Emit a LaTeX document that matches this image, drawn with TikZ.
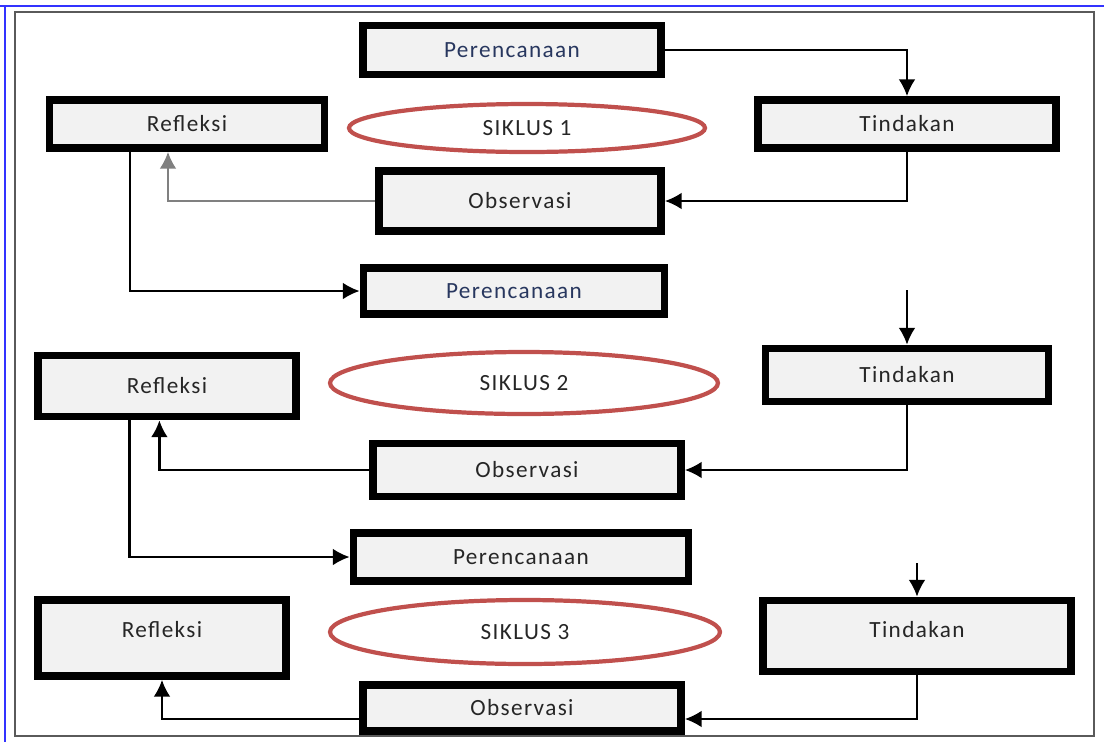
\documentclass[tikz,border=0pt]{standalone}
\usepackage{fontspec}
\setmainfont{Carlito}[LetterSpace=6]
\usetikzlibrary{arrows.meta,shapes.geometric}
\definecolor{siklusred}{RGB}{192,80,77}
\definecolor{boxgray}{RGB}{242,242,242}
\definecolor{perblue}{RGB}{40,55,95}
\definecolor{framegray}{RGB}{90,90,90}

\begin{document}
\begin{tikzpicture}[
  x=0.25mm, y=-0.25mm,
  box/.style={draw, line width=5.5pt, fill=boxgray, inner sep=0pt, text=black!85, font=\fontsize{16.5}{19}\selectfont},
  siklus/.style={draw=siklusred, ellipse, line width=3pt, inner sep=0pt, text=black!85, font=\fontsize{16.5}{19}\selectfont},
  arr/.style={-{Latex[length=4.2mm,width=4.2mm]}, line width=1.6pt}
]
\useasboundingbox (0,0) rectangle (1104,742);
% frame
\draw[blue!80, line width=1.5pt] (0,6) -- (1104,6) (5,6) -- (5,742);
\draw[framegray, line width=1.4pt] (15,12) rectangle (1094,736);

% siklus 1
\node[box, minimum width=74.5mm, minimum height=12.25mm, text=perblue] (per1) at (512,50) {Perencanaan};
\node[box, minimum width=68.75mm, minimum height=12mm] (ref1) at (187,124) {Refleksi};
\node[siklus, minimum width=89mm, minimum height=12mm] (sik1) at (527,128) {SIKLUS 1};
\node[box, minimum width=74.5mm, minimum height=12mm] (tin1) at (907,124) {Tindakan};
\node[box, minimum width=70.5mm, minimum height=15mm] (obs1) at (520,201) {Observasi};

% siklus 2
\node[box, minimum width=75.25mm, minimum height=11.5mm, text=perblue] (per2) at (514,291) {Perencanaan};
\node[box, minimum width=64.5mm, minimum height=15.25mm] (ref2) at (167,386) {Refleksi};
\node[siklus, minimum width=97mm, minimum height=15.5mm] (sik2) at (524,383) {SIKLUS 2};
\node[box, minimum width=70.75mm, minimum height=13.25mm] (tin2) at (907,375) {Tindakan};
\node[box, minimum width=77mm, minimum height=13.25mm] (obs2) at (527,470) {Observasi};

% siklus 3
\node[box, minimum width=83.75mm, minimum height=12mm] (per3) at (521,557) {Perencanaan};
\node[box, minimum width=62mm, minimum height=19mm, text depth=4.5mm] (ref3) at (162,638) {Refleksi};
\node[siklus, minimum width=97.5mm, minimum height=16mm] (sik3) at (525,632) {SIKLUS 3};
\node[box, minimum width=77mm, minimum height=17.75mm, text depth=3.5mm] (tin3) at (917,636) {Tindakan};
\node[box, minimum width=79.5mm, minimum height=11.5mm] (obs3) at (522,708) {Observasi};

\coordinate (top2) at (907,290);
\coordinate (top3) at (917,563);

% arrows
\draw[arr] (per1.east) -| (tin1.north);
\draw[arr] (tin1.south) |- (obs1.east);
\draw[arr, gray] (obs1.west) -| ([xshift=-4.75mm]ref1.south);
\draw[arr] ([xshift=-14.25mm]ref1.south) |- (per2.west);

\draw[arr] (top2) -- (tin2.north);
\draw[arr] (tin2.south) |- (obs2.east);
\draw[arr] (obs2.west) -| ([xshift=-1.9mm]ref2.south);
\draw[arr] ([xshift=-9.4mm]ref2.south) |- (per3.west);

\draw[arr] (top3) -- (tin3.north);
\draw[arr] (tin3.south) |- ([yshift=-2.75mm]obs3.east);
\draw[arr] ([yshift=-2.75mm]obs3.west) -| (ref3.south);
\end{tikzpicture}
\end{document}
